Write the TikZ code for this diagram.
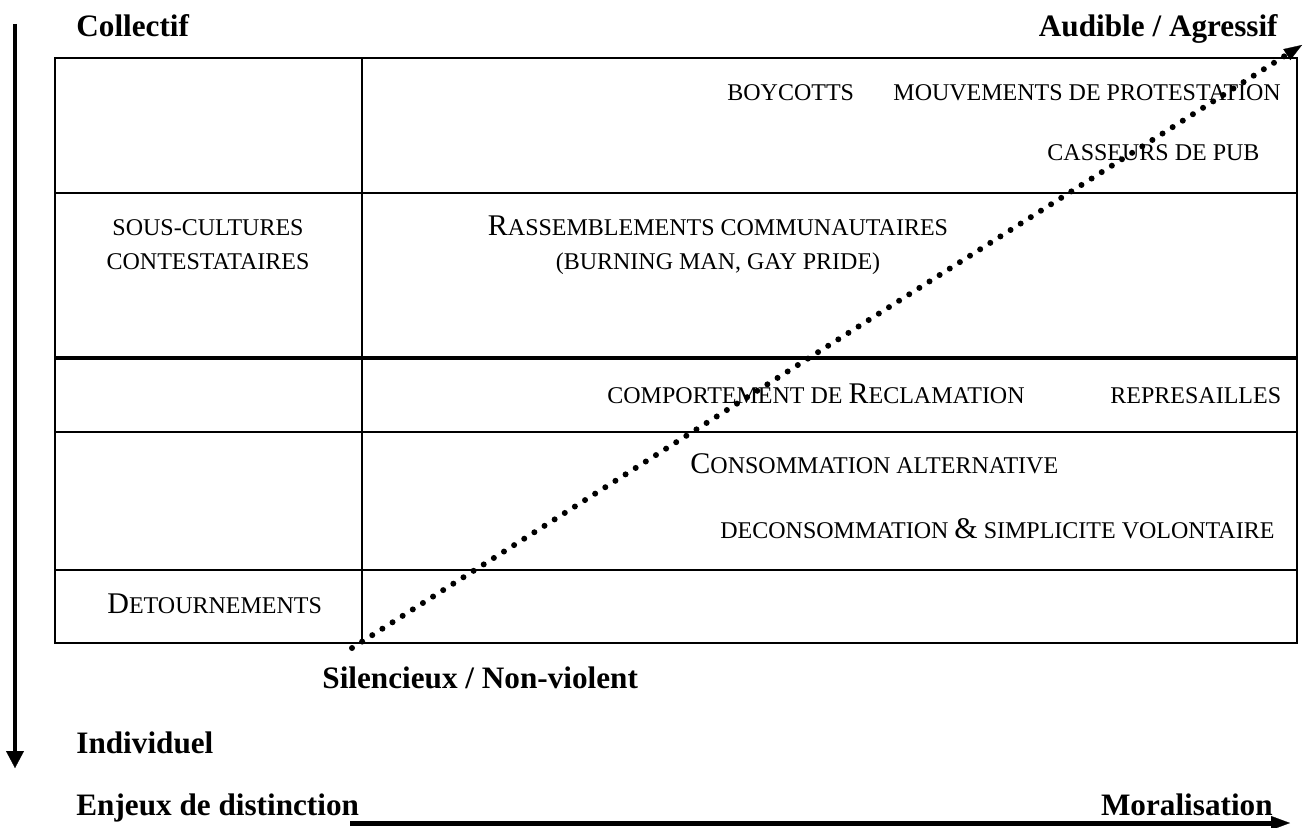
\documentclass[tikz,border=0pt]{standalone}
\usepackage{fontspec}
\setmainfont{Liberation Serif}
\usetikzlibrary{arrows.meta}
\newcommand\bg[1]{{\fontsize{15}{18}\selectfont #1}}
\tikzset{
  grid/.style={line width=1pt},
  thickgrid/.style={line width=1.8pt},
  lab/.style={font=\fontsize{15.6}{18}\selectfont\bfseries, inner sep=0pt},
  cell/.style={inner sep=0pt, font=\fontsize{12}{14}\selectfont},
  dotline/.style={line width=3pt, dash pattern=on 0pt off 6pt, line cap=round,
    -{Triangle[length=9pt,width=6.5pt,line width=0.1pt]}},
  axisv/.style={line width=2pt, -{Triangle[length=8.5pt,width=9pt,line width=0.1pt]}},
  axish/.style={line width=2.5pt, -{Triangle[length=9.5pt,width=7pt,line width=0.1pt]}}
}
\begin{document}
\begin{tikzpicture}[x=0.5pt,y=-0.5pt]
\useasboundingbox (0,0) rectangle (1305,828);
% grid
\coordinate (tl) at (55,58);
\coordinate (br) at (1297,643);
\draw[grid] (tl) rectangle (br);
\draw[grid] (362,58) -- (362,643);
\draw[grid] (55,193) -- (1297,193);
\draw[thickgrid] (55,358) -- (1297,358);
\draw[grid] (55,432) -- (1297,432);
\draw[grid] (55,570) -- (1297,570);

% labels
\node[lab, anchor=base west] (coll) at (76,37) {Collectif};
\node[lab, anchor=base east] (aud) at (1278,37) {Audible / Agressif};
\node[lab, anchor=base west] (sil) at (322,688) {Silencieux / Non-violent};
\node[lab, anchor=base west] (ind) at (76,753) {Individuel};
\node[lab, anchor=base west] (enj) at (76,815) {Enjeux de distinction};
\node[lab, anchor=base east] (mor) at (1273,815) {Moralisation};

% cell texts
\node[cell, anchor=base west] (boy) at (727,101) {BOYCOTTS};
\node[cell, anchor=base west] (mouv) at (893,101) {MOUVEMENTS DE PROTESTATION};
\node[cell, anchor=base west] (cas) at (1047,161) {CASSEURS DE PUB};
\node[cell, anchor=base] (sous) at (208,236) {SOUS-CULTURES};
\node[cell, anchor=base] (cont) at (208,270) {CONTESTATAIRES};
\node[cell, anchor=base] (rass) at (718,236) {\bg{R}ASSEMBLEMENTS COMMUNAUTAIRES};
\node[cell, anchor=base] (burn) at (718,270) {(BURNING MAN, GAY PRIDE)};
\node[cell, anchor=base west] (comp) at (607,403) {COMPORTEMENT DE \bg{R}ECLAMATION};
\node[cell, anchor=base west] (rep) at (1110,403) {REPRESAILLES};
\node[cell, anchor=base west] (conso) at (690,473) {\bg{C}ONSOMMATION ALTERNATIVE};
\node[cell, anchor=base west] (decon) at (720,538) {DECONSOMMATION \bg{\&} SIMPLICITE VOLONTAIRE};
\node[cell, anchor=base west] (det) at (107,613) {\bg{D}ETOURNEMENTS};

% arrows
\coordinate (d0) at (352,648);
\coordinate (d1) at (1302,45);
\draw[dotline] (d0) -- (d1);
\coordinate (v0) at (15,24);
\coordinate (v1) at (15,768);
\draw[axisv] (v0) -- (v1);
\coordinate (h0) at (350,823);
\coordinate (h1) at (1290,823);
\draw[axish] (h0) -- (h1);
\end{tikzpicture}
\end{document}
